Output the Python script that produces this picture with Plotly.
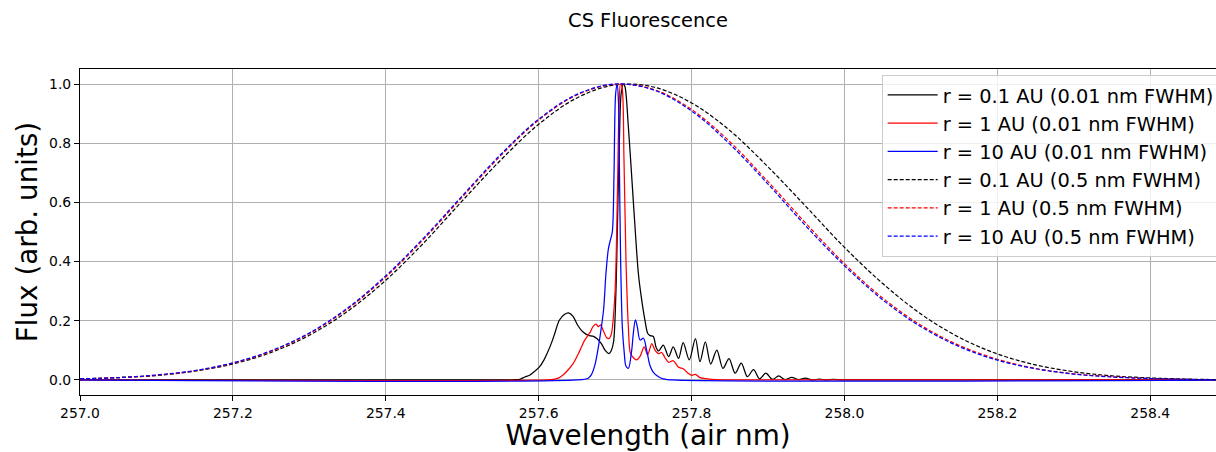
import plotly.graph_objects as go

# ---------------- data ----------------
# broad (0.5 nm FWHM) spectra, sampled every 0.05 nm
wl_broad = [257.00, 257.05, 257.10, 257.15, 257.20, 257.25, 257.30, 257.35, 257.40, 257.45,
            257.50, 257.55, 257.60, 257.65, 257.70, 257.75, 257.80, 257.85, 257.90, 257.95,
            258.00, 258.05, 258.10, 258.15, 258.20, 258.25, 258.30, 258.35, 258.40, 258.45, 258.50]
flux_broad_01 = [0.004, 0.008, 0.015, 0.030, 0.054, 0.093, 0.151, 0.232, 0.337, 0.464,
                 0.605, 0.742, 0.864, 0.953, 0.997, 0.990, 0.936, 0.843, 0.720, 0.585,
                 0.448, 0.326, 0.223, 0.144, 0.088, 0.051, 0.028, 0.014, 0.007, 0.003, 0.001]
flux_broad_1 = [0.004, 0.008, 0.016, 0.031, 0.057, 0.097, 0.157, 0.240, 0.348, 0.477,
                0.618, 0.757, 0.878, 0.963, 0.999, 0.982, 0.914, 0.805, 0.670, 0.528,
                0.393, 0.277, 0.185, 0.117, 0.070, 0.039, 0.021, 0.011, 0.005, 0.002, 0.001]
flux_broad_10 = [0.004, 0.008, 0.017, 0.032, 0.058, 0.099, 0.159, 0.243, 0.352, 0.481,
                 0.622, 0.761, 0.881, 0.965, 1.000, 0.980, 0.909, 0.797, 0.662, 0.519,
                 0.386, 0.271, 0.180, 0.113, 0.067, 0.038, 0.020, 0.010, 0.005, 0.002, 0.001]

# narrow (0.01 nm FWHM) spectra
wl_01 = [257.000, 257.560, 257.570, 257.575, 257.582, 257.588, 257.595, 257.601, 257.607, 257.612,
         257.617, 257.621, 257.627, 257.634, 257.639, 257.645, 257.651, 257.658, 257.665, 257.671,
         257.676, 257.682, 257.687, 257.692, 257.695, 257.698, 257.701, 257.703, 257.7055, 257.708,
         257.711, 257.713, 257.7173, 257.7217, 257.726, 257.7304, 257.7348, 257.739, 257.7427, 257.7458,
         257.750, 257.7535, 257.757, 257.763, 257.770, 257.776, 257.783, 257.789, 257.797, 257.805,
         257.811, 257.818, 257.825, 257.833, 257.841, 257.849, 257.857, 257.865, 257.873, 257.881,
         257.889, 257.897, 257.906, 257.914, 257.922, 257.931, 257.940, 257.949, 257.958, 257.967,
         257.976, 257.985, 258.000, 258.500]
flux_01 = [0.000, 0.000, 0.001, 0.002, 0.010, 0.016, 0.030, 0.044, 0.068, 0.095,
           0.127, 0.157, 0.202, 0.222, 0.227, 0.215, 0.185, 0.162, 0.151, 0.148,
           0.140, 0.123, 0.100, 0.089, 0.100, 0.130, 0.293, 0.518, 0.800, 0.970,
           1.000, 0.990, 0.856, 0.687, 0.518, 0.360, 0.270, 0.202, 0.157, 0.150,
           0.147, 0.111, 0.098, 0.118, 0.079, 0.112, 0.073, 0.126, 0.068, 0.140,
           0.062, 0.129, 0.054, 0.101, 0.039, 0.072, 0.023, 0.057, 0.011, 0.035,
           0.004, 0.023, 0.002, 0.014, 0.001, 0.009, 0.001, 0.006, 0.000, 0.003,
           0.000, 0.002, 0.000, 0.000]

wl_1 = [257.000, 257.610, 257.619, 257.627, 257.636, 257.645, 257.654, 257.660, 257.667, 257.671,
        257.675, 257.678, 257.681, 257.684, 257.689, 257.692, 257.695, 257.6998, 257.703, 257.705,
        257.707, 257.709, 257.7116, 257.7142, 257.7173, 257.720, 257.724, 257.728, 257.7326, 257.738,
        257.7425, 257.748, 257.752, 257.757, 257.761, 257.765, 257.770, 257.776, 257.783, 257.789,
        257.795, 257.800, 257.805, 257.811, 257.818, 257.826, 257.840, 258.500]
flux_1 = [0.000, 0.000, 0.002, 0.008, 0.027, 0.055, 0.100, 0.134, 0.160, 0.180,
          0.189, 0.180, 0.186, 0.170, 0.143, 0.140, 0.155, 0.293, 0.630, 0.910,
          1.000, 0.990, 0.743, 0.405, 0.180, 0.090, 0.075, 0.068, 0.080, 0.112,
          0.085, 0.123, 0.102, 0.089, 0.093, 0.076, 0.060, 0.065, 0.043, 0.038,
          0.024, 0.016, 0.019, 0.008, 0.005, 0.002, 0.000, 0.000]

wl_10 = [257.000, 257.650, 257.6648, 257.669, 257.6735, 257.677, 257.681, 257.685, 257.688, 257.691,
         257.6932, 257.6963, 257.6985, 257.7007, 257.7028, 257.7045, 257.7055, 257.7072, 257.7094, 257.712,
         257.714, 257.7173, 257.7217, 257.7238, 257.7265, 257.729, 257.7326, 257.737, 257.7413, 257.7457,
         257.750, 257.7567, 257.763, 257.775, 258.500]
flux_10 = [0.000, 0.000, 0.006, 0.018, 0.050, 0.095, 0.160, 0.240, 0.360, 0.440,
           0.467, 0.500, 0.690, 0.968, 1.000, 0.930, 0.743, 0.405, 0.180, 0.090,
           0.048, 0.039, 0.101, 0.158, 0.203, 0.180, 0.135, 0.141, 0.100, 0.048,
           0.026, 0.011, 0.004, 0.000, 0.000]

names_narrow = ["r = 0.1 AU (0.01 nm FWHM)", "r = 1 AU (0.01 nm FWHM)", "r = 10 AU (0.01 nm FWHM)"]
names_broad = ["r = 0.1 AU (0.5 nm FWHM)", "r = 1 AU (0.5 nm FWHM)", "r = 10 AU (0.5 nm FWHM)"]
colors = ["#000000", "#ff0000", "#0000ff"]

x_ticks = [257.0, 257.2, 257.4, 257.6, 257.8, 258.0, 258.2, 258.4]
y_ticks = [0.0, 0.2, 0.4, 0.6, 0.8, 1.0]

# ---------------- figure ----------------
fig = go.Figure()
for wl, fl, nm, c in zip([wl_01, wl_1, wl_10], [flux_01, flux_1, flux_10], names_narrow, colors):
    fig.add_trace(go.Scatter(x=wl, y=fl, name=nm, mode="lines",
                             line=dict(color=c, width=1.25, shape="spline", smoothing=0.85)))
for fl, nm, c in zip([flux_broad_01, flux_broad_1, flux_broad_10], names_broad, colors):
    fig.add_trace(go.Scatter(x=wl_broad, y=fl, name=nm, mode="lines",
                             line=dict(color=c, width=1.2, dash="4px,2px", shape="spline", smoothing=1.0)))

font = "DejaVu Sans, sans-serif"
fig.update_layout(
    template="none",
    width=1216, height=452,
    margin=dict(l=80, r=0, t=69, b=57, pad=0, autoexpand=False),
    paper_bgcolor="white", plot_bgcolor="white",
    font=dict(family=font, color="black", size=14),
    title=dict(text="CS Fluorescence", x=0.5, xref="paper", xanchor="center",
               y=0.955, yref="container", yanchor="middle",
               font=dict(family=font, size=19.4, color="black")),
    showlegend=True,
    legend=dict(x=0.7057, y=0.982, xanchor="left", yanchor="top",
                bgcolor="rgba(255,255,255,0.8)", bordercolor="#cccccc", borderwidth=1,
                font=dict(family=font, size=19.4, color="black"), itemwidth=50),
)
fig.update_xaxes(range=[257.0, 258.486], tickvals=x_ticks, ticktext=[f"{v:.1f}" for v in x_ticks],
                 automargin=False,
                 showgrid=True, gridcolor="#b0b0b0", gridwidth=1.1, zeroline=False,
                 showline=True, linecolor="black", linewidth=1.1, mirror=True,
                 ticks="outside", ticklen=5, tickwidth=1.1, tickcolor="black",
                 tickfont=dict(size=13.9, family=font, color="black"),
                 title=dict(text="Wavelength (air nm)", font=dict(size=27.8, family=font, color="black"), standoff=5))
fig.update_yaxes(range=[-0.0507, 1.0507], tickvals=y_ticks, ticktext=[f"{v:.1f}" for v in y_ticks],
                 automargin=False,
                 showgrid=True, gridcolor="#b0b0b0", gridwidth=1.1, zeroline=False,
                 showline=True, linecolor="black", linewidth=1.1, mirror=False,
                 ticks="outside", ticklen=5, tickwidth=1.1, tickcolor="black",
                 tickfont=dict(size=13.9, family=font, color="black"),
                 title=dict(text="Flux (arb. units)", font=dict(size=27.8, family=font, color="black"), standoff=3))

fig.write_html("out.html", config={"displayModeBar": False},
               post_script="document.body.style.margin='0';document.body.style.overflow='hidden';")
